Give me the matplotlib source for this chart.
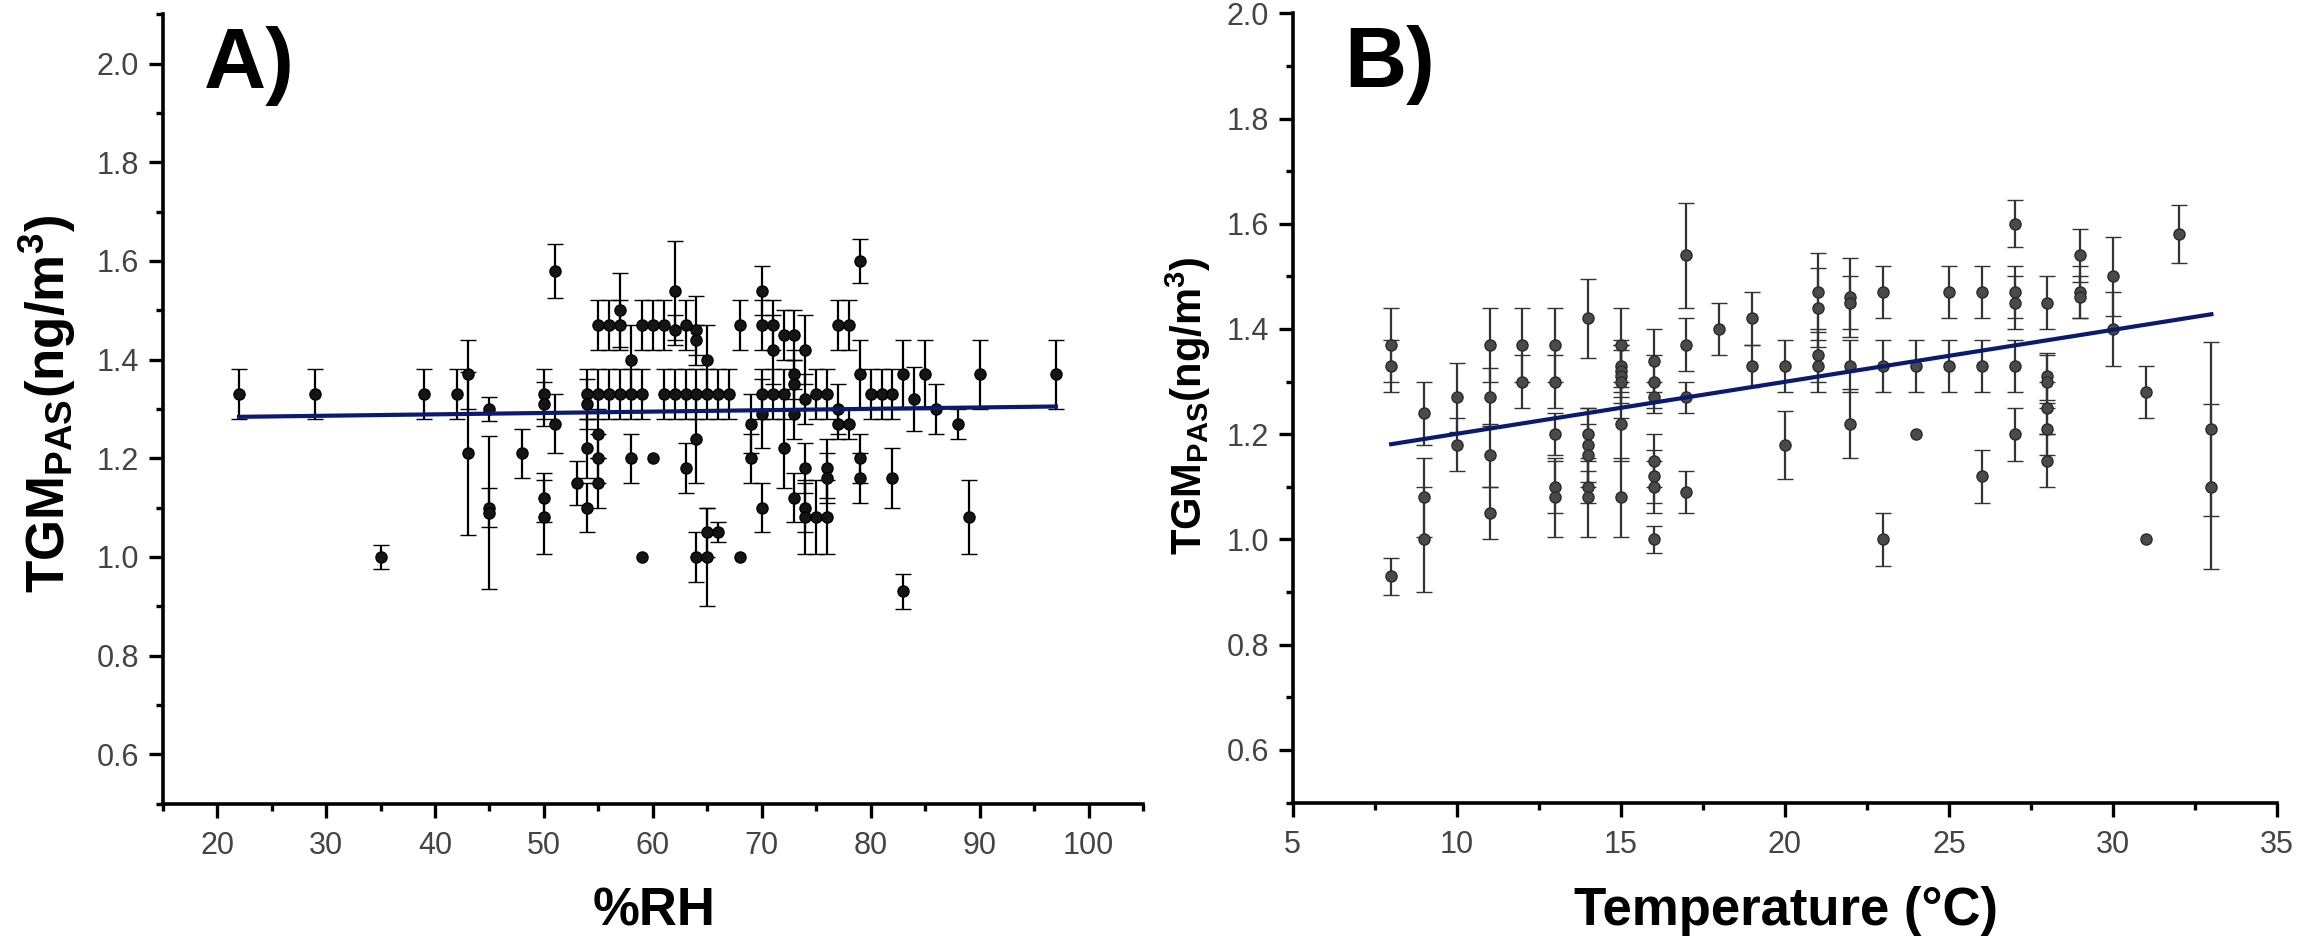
import numpy as np
import matplotlib
matplotlib.use("Agg")
import matplotlib.pyplot as plt
from matplotlib.ticker import MultipleLocator

plt.rcParams['font.family'] = ['Liberation Sans', 'DejaVu Sans']
plt.rcParams['mathtext.fontset'] = 'custom'
plt.rcParams['mathtext.rm'] = 'Liberation Sans'
plt.rcParams['mathtext.bf'] = 'Liberation Sans:bold'
plt.rcParams['mathtext.it'] = 'Liberation Sans:italic'

# ---------------- Panel A data: %RH vs TGM ----------------
rh = [22, 29, 35, 39, 42, 43, 43, 45, 45, 45, 48, 50, 50, 50, 50, 51, 51, 53,
      54, 54, 54, 54, 55, 55, 55, 55, 55, 56, 56, 57, 57, 57, 58, 58, 58,
      59, 59, 59, 60, 60, 61, 61, 62, 62, 62, 63, 63, 63, 64, 64, 64, 64, 64,
      65, 65, 65, 65, 66, 66, 67, 68, 68, 69, 69, 70, 70, 70, 70, 70,
      71, 71, 71, 72, 72, 72, 73, 73, 73, 73, 73, 74, 74, 74, 74, 74,
      75, 75, 76, 76, 76, 76, 77, 77, 77, 78, 78, 79, 79, 79, 79,
      80, 81, 82, 82, 83, 83, 84, 85, 86, 88, 89, 90, 97]
tgm_a = [1.33, 1.33, 1.00, 1.33, 1.33, 1.37, 1.21, 1.30, 1.10, 1.09, 1.21, 1.33, 1.31, 1.12, 1.08, 1.58, 1.27, 1.15,
         1.33, 1.31, 1.22, 1.10, 1.47, 1.33, 1.25, 1.20, 1.15, 1.47, 1.33, 1.50, 1.47, 1.33, 1.40, 1.33, 1.20,
         1.47, 1.33, 1.00, 1.47, 1.20, 1.47, 1.33, 1.54, 1.46, 1.33, 1.47, 1.33, 1.18, 1.46, 1.44, 1.33, 1.24, 1.00,
         1.40, 1.33, 1.05, 1.00, 1.33, 1.05, 1.33, 1.47, 1.00, 1.27, 1.20, 1.54, 1.47, 1.33, 1.29, 1.10,
         1.47, 1.42, 1.33, 1.45, 1.33, 1.22, 1.45, 1.37, 1.35, 1.29, 1.12, 1.42, 1.32, 1.18, 1.10, 1.08,
         1.33, 1.08, 1.33, 1.18, 1.16, 1.08, 1.47, 1.30, 1.27, 1.47, 1.27, 1.60, 1.37, 1.20, 1.16,
         1.33, 1.33, 1.33, 1.16, 1.37, 0.93, 1.32, 1.37, 1.30, 1.27, 1.08, 1.37, 1.37]
err_a = [0.05, 0.05, 0.025, 0.05, 0.05, 0.07, 0.165, 0.025, 0.04, 0.155, 0.05, 0.05, 0.045, 0.05, 0.075, 0.055, 0.06, 0.045,
         0.05, 0.05, 0.06, 0.05, 0.05, 0.05, 0.05, 0.05, 0.05, 0.05, 0.05, 0.075, 0.05, 0.05, 0.07, 0.05, 0.05,
         0.05, 0.05, 0.0, 0.05, 0.0, 0.05, 0.05, 0.10, 0.03, 0.05, 0.05, 0.05, 0.05, 0.07, 0.03, 0.05, 0.09, 0.05,
         0.07, 0.05, 0.05, 0.10, 0.05, 0.02, 0.05, 0.05, 0.0, 0.06, 0.05, 0.05, 0.05, 0.05, 0.07, 0.05,
         0.05, 0.07, 0.05, 0.05, 0.05, 0.08, 0.05, 0.05, 0.05, 0.05, 0.05, 0.07, 0.05, 0.05, 0.05, 0.075,
         0.05, 0.075, 0.05, 0.06, 0.05, 0.075, 0.05, 0.05, 0.03, 0.05, 0.03, 0.045, 0.07, 0.05, 0.05,
         0.05, 0.05, 0.05, 0.06, 0.07, 0.035, 0.065, 0.07, 0.05, 0.03, 0.075, 0.07, 0.07]
fit_a_x = [22, 97]
fit_a_y = [1.284, 1.305]

# ---------------- Panel B data: Temperature vs TGM ----------------
temp = [8, 8, 8, 9, 9, 9, 10, 10, 11, 11, 11, 11, 12, 12,
        13, 13, 13, 13, 13, 14, 14, 14, 14, 14, 14,
        15, 15, 15, 15, 15, 15, 15, 16, 16, 16, 16, 16, 16, 16,
        17, 17, 17, 17, 18, 19, 19, 20, 20, 21, 21, 21, 21,
        22, 22, 22, 22, 23, 23, 23, 24, 24, 25, 25, 26, 26, 26,
        27, 27, 27, 27, 27, 28, 28, 28, 28, 28, 28, 29, 29, 29,
        30, 30, 31, 31, 32, 33, 33]
tgm_b = [1.37, 1.33, 0.93, 1.24, 1.08, 1.00, 1.27, 1.18, 1.37, 1.27, 1.16, 1.05, 1.37, 1.30,
         1.37, 1.30, 1.20, 1.10, 1.08, 1.42, 1.20, 1.18, 1.16, 1.10, 1.08,
         1.37, 1.33, 1.32, 1.31, 1.30, 1.22, 1.08, 1.34, 1.30, 1.27, 1.15, 1.12, 1.10, 1.00,
         1.54, 1.37, 1.27, 1.09, 1.40, 1.42, 1.33, 1.33, 1.18, 1.47, 1.44, 1.35, 1.33,
         1.46, 1.45, 1.33, 1.22, 1.47, 1.33, 1.00, 1.33, 1.20, 1.47, 1.33, 1.47, 1.33, 1.12,
         1.60, 1.47, 1.45, 1.33, 1.20, 1.45, 1.31, 1.30, 1.25, 1.21, 1.15, 1.54, 1.47, 1.46,
         1.50, 1.40, 1.28, 1.00, 1.58, 1.21, 1.10]
err_b = [0.07, 0.05, 0.035, 0.06, 0.075, 0.10, 0.065, 0.05, 0.07, 0.055, 0.06, 0.05, 0.07, 0.05,
         0.07, 0.05, 0.04, 0.05, 0.075, 0.075, 0.05, 0.07, 0.06, 0.03, 0.075,
         0.07, 0.05, 0.05, 0.05, 0.07, 0.07, 0.075, 0.06, 0.05, 0.03, 0.05, 0.05, 0.05, 0.025,
         0.10, 0.05, 0.03, 0.04, 0.05, 0.05, 0.04, 0.05, 0.065, 0.075, 0.075, 0.05, 0.05,
         0.075, 0.05, 0.05, 0.065, 0.05, 0.05, 0.05, 0.05, 0.0, 0.05, 0.05, 0.05, 0.05, 0.05,
         0.045, 0.05, 0.05, 0.05, 0.05, 0.05, 0.045, 0.05, 0.05, 0.05, 0.05, 0.05, 0.05, 0.04,
         0.075, 0.07, 0.05, 0.0, 0.055, 0.165, 0.157]
fit_b_x = [8, 33]
fit_b_y = [1.181, 1.428]

xticks_a = [20, 30, 40, 50, 60, 70, 80, 90, 100]
xticks_b = [5, 10, 15, 20, 25, 30, 35]
yticks = [0.6, 0.8, 1.0, 1.2, 1.4, 1.6, 1.8, 2.0]

W, H = 2304, 951
fig = plt.figure(figsize=(W / 100, H / 100), dpi=100)

axA = fig.add_axes([162.7 / W, 1 - 803.5 / H, (1143 - 162.7) / W, (803.5 - 14.4) / H])
axB = fig.add_axes([1292.7 / W, 1 - 802.5 / H, (2277 - 1292.7) / W, (802.5 - 13.3) / H])

fit_color = '#0b1a6e'
tick_color = '#444444'


def draw_panel(ax, x, y, e, face, edge, ecol, fx, fy):
    x = np.asarray(x, float)
    y = np.asarray(y, float)
    e = np.asarray(e, float)
    m = e > 0
    ax.errorbar(x[m], y[m], yerr=e[m], fmt='o', ms=8, mfc=face, mec=edge, mew=1.0,
                ecolor=ecol, elinewidth=1.6, capsize=5.8, capthick=1.6, zorder=3)
    ax.plot(x[~m], y[~m], 'o', ms=8, mfc=face, mec=edge, mew=1.0, zorder=3)
    ax.plot(fx, fy, '-', color=fit_color, lw=3.0, zorder=4)
    for s in ['top', 'right']:
        ax.spines[s].set_visible(False)
    for s in ['left', 'bottom']:
        ax.spines[s].set_linewidth(2.6)
        ax.spines[s].set_color('black')
    ax.tick_params(which='major', direction='out', length=10, width=2.4, color='black',
                   labelsize=22, labelcolor=tick_color)
    ax.tick_params(which='minor', direction='out', length=5, width=2.4, color='black')
    ax.tick_params(axis='x', which='major', pad=10)
    ax.tick_params(axis='y', which='major', pad=7)
    ax.set_yticks(yticks)
    ax.set_yticklabels([f'{v:.1f}' for v in yticks])
    ax.yaxis.set_minor_locator(MultipleLocator(0.1))


draw_panel(axA, rh, tgm_a, err_a, '#151515', 'black', 'black', fit_a_x, fit_a_y)
axA.set_xlim(15, 105)
axA.set_ylim(0.5, 2.1)
axA.set_xticks(xticks_a)
axA.xaxis.set_minor_locator(MultipleLocator(5))

draw_panel(axB, temp, tgm_b, err_b, '#4a4a4a', '#2a2a2a', '#333333', fit_b_x, fit_b_y)
axB.set_xlim(5, 35)
axB.set_ylim(0.5, 2.0)
axB.set_xticks(xticks_b)
axB.xaxis.set_minor_locator(MultipleLocator(2.5))

# panel letters
axA.text(0.042, 0.985, 'A)', transform=axA.transAxes, fontsize=62, fontweight='bold',
         ha='left', va='top')
axB.text(0.052, 0.985, 'B)', transform=axB.transAxes, fontsize=62, fontweight='bold',
         ha='left', va='top')

# axis labels
ylab = r'$\mathbf{TGM_{PAS}(ng/m^{3})}$'
fig.text(47 / W, 1 - 404 / H, ylab, rotation=90, ha='center', va='center', fontsize=38)
fig.text(1188 / W, 1 - 406 / H, ylab, rotation=90, ha='center', va='center', fontsize=30)
fig.text(654 / W, 1 - 911 / H, '%RH', ha='center', va='center', fontsize=38, fontweight='bold')
fig.text(1786 / W, 1 - 911 / H, 'Temperature (°C)', ha='center', va='center', fontsize=38,
         fontweight='bold')

fig.savefig('out.png', dpi=100)
